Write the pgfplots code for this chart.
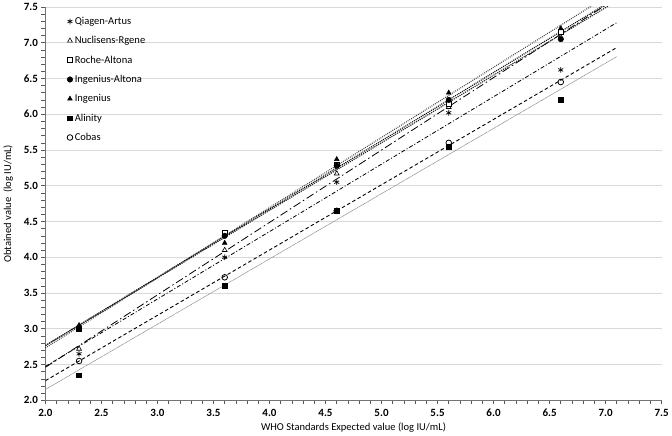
\documentclass[border=0pt]{standalone}
\usepackage{pgfplots}
\pgfplotsset{compat=1.18}
\usepackage{fontspec}
\setmainfont{Carlito}
\begin{document}
\begin{tikzpicture}
\begin{axis}[
 width=614pt, height=392pt, scale only axis,
 xmin=2, xmax=7.5, ymin=2, ymax=7.5,
 xtick={2,2.5,...,7.5}, ytick={2,2.5,...,7.5},
 minor tick num=4,
 /pgf/number format/.cd, fixed, fixed zerofill, precision=1, assume math mode=true, /pgfplots/.cd,
 axis x line*=bottom, axis y line*=left,
 ymajorgrids, grid style={black!15, line width=0.8pt},
 tick align=outside, major tick length=4pt, minor tick length=4pt,
 tick style={black!65, line width=0.6pt},
 axis line style={black!55, line width=0.8pt},
 ticklabel style={font=\fontsize{11}{13}\selectfont\bfseries},
 xticklabel style={yshift=-1pt},
 xlabel={WHO Standards Expected value (log IU/mL)},
 ylabel={Obtained value\ \ (log IU/mL)},
 label style={font=\fontsize{10.5}{12}\selectfont},
 xlabel style={yshift=1pt},
 ylabel style={yshift=4pt},
 legend style={at={(rel axis cs:0.03,0.985)}, anchor=north west, draw=none, fill=none,
   font=\fontsize{10.5}{12}\selectfont, row sep=6.5pt},
 legend cell align=left,
 every axis plot/.append style={mark size=2.8pt},
]
% trend lines
\addplot[forget plot, black, line width=0.8pt, dash pattern=on 4pt off 2pt on 1pt off 2pt] coordinates {(2,2.474) (7.1,7.281)};
\addplot[forget plot, black, line width=0.8pt, dash pattern=on 8pt off 3pt on 1.5pt off 3pt] coordinates {(2,2.462) (7.1,7.626)};
\addplot[forget plot, black, line width=1.1pt, dash pattern=on 1pt off 1pt] coordinates {(2,2.766) (7.1,7.633)};
\addplot[forget plot, black!85, line width=1.1pt, dash pattern=on 1.2pt off 1pt] coordinates {(2,2.766) (7.1,7.585)};
\addplot[forget plot, black!80, line width=1.1pt, dash pattern=on 0.8pt off 1.2pt] coordinates {(2,2.733) (7.1,7.735)};
\addplot[forget plot, black!45, line width=0.6pt, dash pattern=on 1pt off 0.5pt] coordinates {(2,2.152) (7.1,6.806)};
\addplot[forget plot, black, line width=0.9pt, dash pattern=on 3.5pt off 2.5pt] coordinates {(2,2.275) (7.1,6.932)};
% data
\addplot[only marks, mark=asterisk, black, mark options={line width=0.7pt}] coordinates {(2.3,2.65) (3.6,4.00) (4.6,5.05) (5.6,6.02) (6.6,6.62)};
\addlegendentry{Qiagen-Artus}
\addplot[only marks, mark=triangle*, black, fill=white, mark options={line width=0.6pt}] coordinates {(2.3,2.72) (3.6,4.10) (4.6,5.17) (5.6,6.10) (6.6,7.08)};
\addlegendentry{Nuclisens-Rgene}
\addplot[only marks, mark=square*, black, fill=white, mark options={line width=0.6pt}, mark size=2.4pt] coordinates {(2.3,3.00) (3.6,4.35) (4.6,5.30) (5.6,6.15) (6.6,7.15)};
\addlegendentry{Roche-Altona}
\addplot[only marks, mark=*, black] coordinates {(2.3,3.00) (3.6,4.30) (4.6,5.28) (5.6,6.20) (6.6,7.05)};
\addlegendentry{Ingenius-Altona}
\addplot[only marks, mark=triangle*, black] coordinates {(2.3,3.05) (3.6,4.20) (4.6,5.37) (5.6,6.30) (6.6,7.20)};
\addlegendentry{Ingenius}
\addplot[only marks, mark=square*, black, mark size=2.4pt] coordinates {(2.3,2.35) (3.6,3.60) (4.6,4.65) (5.6,5.55) (6.6,6.20)};
\addlegendentry{Alinity}
\addplot[only marks, mark=o, black, mark options={line width=0.8pt}] coordinates {(2.3,2.55) (3.6,3.72) (4.6,4.65) (5.6,5.60) (6.6,6.45)};
\addlegendentry{Cobas}
\end{axis}
\end{tikzpicture}
\end{document}
